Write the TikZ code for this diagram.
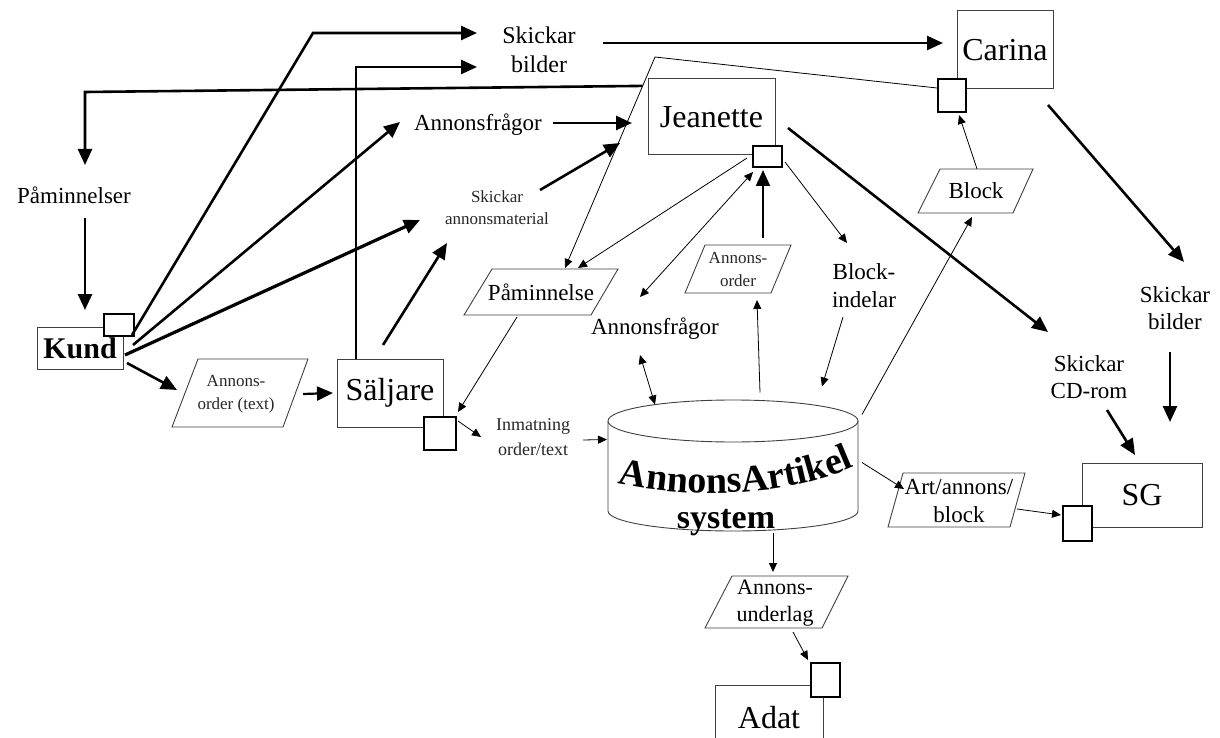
\documentclass[tikz,border=0pt]{standalone}
\usepackage{fontspec}
\setmainfont{Liberation Serif}
\usetikzlibrary{arrows.meta,calc,decorations.text}

\begin{document}
\begin{tikzpicture}[x=1pt,y=-1pt,
  box/.style={draw=black!75, line width=1pt, fill=white, inner sep=0pt,
    font=\fontsize{32}{36}\selectfont},
  port/.style={draw=black, line width=2.6pt, fill=white, inner sep=0pt},
  para/.style={draw=black!75, line width=0.9pt, fill=white},
  lbl/.style={inner sep=0pt, align=center, font=\fontsize{23}{28}\selectfont},
  sml/.style={inner sep=0pt, align=center, font=\fontsize{17}{23}\selectfont, text=black!85},
  heavyflow/.style={line width=2.6pt, -{Triangle[length=16pt,width=14pt]}},
  thinflow/.style={line width=0.8pt, -{Triangle[length=9pt,width=8pt]}},
  thinboth/.style={line width=0.8pt, {Triangle[length=9pt,width=8pt]}-{Triangle[length=9pt,width=8pt]}},
]
\useasboundingbox (0,0) rectangle (1220,738);
\fill[white] (0,0) rectangle (1220,738);

% actors
\node[box, minimum width=86pt, minimum height=42pt, font=\fontsize{30}{34}\selectfont\bfseries] (kund) at (80,348) {Kund};
\node[box, minimum width=106pt, minimum height=68pt] (saljare) at (390,393) {Säljare};
\node[box, minimum width=127pt, minimum height=76pt] (jeanette) at (711.5,117) {Jeanette};
\node[box, minimum width=96pt, minimum height=78pt] (carina) at (1005,50) {Carina};
\node[box, minimum width=120pt, minimum height=64pt] (sg) at (1142,495) {SG};
\node[box, minimum width=108pt, minimum height=66pt] (adat) at (769,718) {Adat};

% ports
\node[port, minimum width=30pt, minimum height=22pt] (kundsq) at (119,325) {};
\node[port, minimum width=32pt, minimum height=33pt] (saljsq) at (440,433.5) {};
\node[port, minimum width=29pt, minimum height=21pt] (jsq) at (767.5,156.5) {};
\node[port, minimum width=28pt, minimum height=33pt] (csq) at (952,95.5) {};
\node[port, minimum width=29pt, minimum height=35pt] (sgsq) at (1077.5,523.5) {};
\node[port, minimum width=29pt, minimum height=34pt] (adsq) at (825.5,680) {};

% data items
\draw[para] (198,359) -- (308,359) -- (283,427) -- (172,427) -- cycle;
\node[sml] (pao) at (236,394) {Annons-\\order (text)};
\draw[para] (492,269) -- (618,269) -- (591,315) -- (464,315) -- cycle;
\node[lbl] (ppam) at (541,292) {Påminnelse};
\draw[para] (705,245) -- (791,245) -- (771,293) -- (685,293) -- cycle;
\node[sml] (pamo) at (738,269) {Annons-\\order};
\draw[para] (940,169) -- (1033,169) -- (1013,213) -- (918,213) -- cycle;
\node[lbl] (pblk) at (976,191) {Block};
\draw[para] (903,473) -- (1025,473) -- (1010,527) -- (888,527) -- cycle;
\node[lbl] (part) at (959,501) {Art/annons/\\block};
\draw[para] (732,576) -- (848,576) -- (822,628) -- (705,628) -- cycle;
\node[lbl, font=\fontsize{22}{27}\selectfont] (pund) at (775,603) {Annons-\\underlag};

% database
\node[inner sep=0pt, minimum width=250pt, minimum height=131pt] (db) at (733,465.5) {};
\draw[para] (608,421) -- (608,511) arc[start angle=180, end angle=0, x radius=125, y radius=20] -- (858,421);
\draw[para] (733,421) ellipse [x radius=125, y radius=21];
\path[decorate, decoration={text along path, text align=center,
  text={|\fontsize{38}{38}\selectfont\bfseries|AnnonsArtikel}}]
  (610,482) .. controls (690,500) and (790,498) .. (862,463);
\node[inner sep=0pt, font=\fontsize{34}{34}\selectfont\bfseries] (sysl) at (726,523) {system};

% labels
\node[lbl, font=\fontsize{24}{29}\selectfont] (skb) at (539,50) {Skickar\\bilder};
\node[lbl] (pamr) at (74,195) {Påminnelser};
\node[lbl] (annf1) at (478,125) {Annonsfrågor};
\node[sml, font=\fontsize{17}{22}\selectfont] (skam) at (497,208) {Skickar\\annonsmaterial};
\node[lbl] (annf2) at (655,329) {Annonsfrågor};
\node[lbl] (blki) at (864,286) {Block-\\indelar};
\node[lbl, font=\fontsize{23}{27}\selectfont] (skbr) at (1175,308) {Skickar\\bilder};
\node[lbl, font=\fontsize{23}{27}\selectfont] (skcd) at (1089,377) {Skickar\\CD-rom};
\node[sml, font=\fontsize{18}{25}\selectfont] (inm) at (533,437) {Inmatning\\order/text};

% bend points
\coordinate (ctop) at (655,57);
\coordinate (pamtip) at ($(ppam.center)+(24,-24)$);
\coordinate (pj) at ($(ctop)!0.137!(pamtip)$);
\coordinate (kb1) at (313,33);
\coordinate (sb1) at (356,67);
\coordinate (pb1) at (85,92);

% heavy flows
\draw[heavyflow] ($(kundsq.center)+(13,10)$) -- (kb1) -- ($(skb.center)+(-62,-17)$);
\draw[heavyflow] ($(kund.center)+(53,-3)$) -- ($(annf1.center)+(-78,-3)$);
\draw[heavyflow, line width=3.2pt] ($(kund.center)+(45,7)$) -- ($(skam.center)+(-77,12)$);
\draw[heavyflow] ($(saljare.center)+(-34,-34)$) -- (sb1) -- ($(skb.center)+(-62,17)$);
\draw[heavyflow] ($(saljare.center)+(-7,-48)$) -- ($(skam.center)+(-50,35)$);
\draw[heavyflow] (pj) -- (pb1) -- ($(pamr.center)+(11,-30)$);
\draw[heavyflow] ($(pamr.center)+(11,23)$) -- ($(kund.center)+(5,-38)$);
\draw[heavyflow] ($(skb.center)+(64,-7)$) -- ($(carina.center)+(-62,-7)$);
\draw[heavyflow] ($(annf1.center)+(75,-2)$) -- ($(jeanette.center)+(-79.5,6)$);
\draw[heavyflow] ($(skam.center)+(43,-18)$) -- ($(jeanette.center)+(-91.5,26)$);
\draw[heavyflow] ($(jeanette.center)+(76.5,11)$) -- ($(skcd.center)+(-41,-45)$);
\draw[heavyflow] ($(carina.center)+(43,55)$) -- ($(skbr.center)+(9,-46)$);
\draw[heavyflow] ($(skbr.center)+(-5,44)$) -- ($(sg.center)+(28,-73)$);
\draw[heavyflow] ($(skcd.center)+(18,33)$) -- ($(sg.center)+(-7,-40)$);
\draw[heavyflow] ($(kund.center)+(47,15)$) -- ($(pao.center)+(-59,-4)$);
\draw[heavyflow, line width=2.2pt] ($(pao.center)+(67,0)$) -- ($(saljare.center)+(-57,0)$);
\draw[heavyflow, line width=2pt] ($(pamo.center)+(25,-31)$) -- ($(jsq.center)+(-4.5,13.5)$);

% light flows
\draw[thinflow] ($(csq.center)+(-15,-7.5)$) -- (ctop) -- (pamtip);
\draw[thinflow] ($(jsq.center)+(-20.5,1.5)$) -- ($(ppam.center)+(37,-24)$);
\draw[thinboth] ($(jsq.center)+(-14.5,15.5)$) -- ($(annf2.center)+(-15,-32)$);
\draw[thinflow] ($(jsq.center)+(17.5,5.5)$) -- ($(blki.center)+(-17,-43)$);
\draw[thinflow] ($(blki.center)+(-21,31)$) -- ($(db.center)+(89,-79)$);
\draw[thinflow] ($(db.center)+(27,-73)$) -- ($(pamo.center)+(19,31)$);
\draw[thinboth] ($(annf2.center)+(-15,26)$) -- ($(db.center)+(-78,-61)$);
\draw[thinflow] ($(ppam.center)+(-24,25)$) -- ($(saljsq.center)+(18,-21.5)$);
\draw[thinflow] ($(saljsq.center)+(18,-12.5)$) -- ($(inm.center)+(-52,0)$);
\draw[thinflow] ($(inm.center)+(50,3)$) -- ($(db.center)+(-126,-26)$);
\draw[thinflow] ($(db.center)+(129,-51)$) -- ($(pblk.center)+(-4,26)$);
\draw[thinflow] ($(pblk.center)+(1,-22)$) -- ($(csq.center)+(7,19.5)$);
\draw[thinflow] ($(db.center)+(129,-3)$) -- ($(part.center)+(-55,-12)$);
\draw[thinflow] ($(part.center)+(58,8)$) -- ($(sgsq.center)+(-16.5,-8.5)$);
\draw[thinflow] ($(db.center)+(40,67)$) -- ($(pund.center)+(-2,-31)$);
\draw[thinflow] ($(pund.center)+(18,29)$) -- ($(adsq.center)+(-17.5,-20)$);
\end{tikzpicture}
\end{document}
